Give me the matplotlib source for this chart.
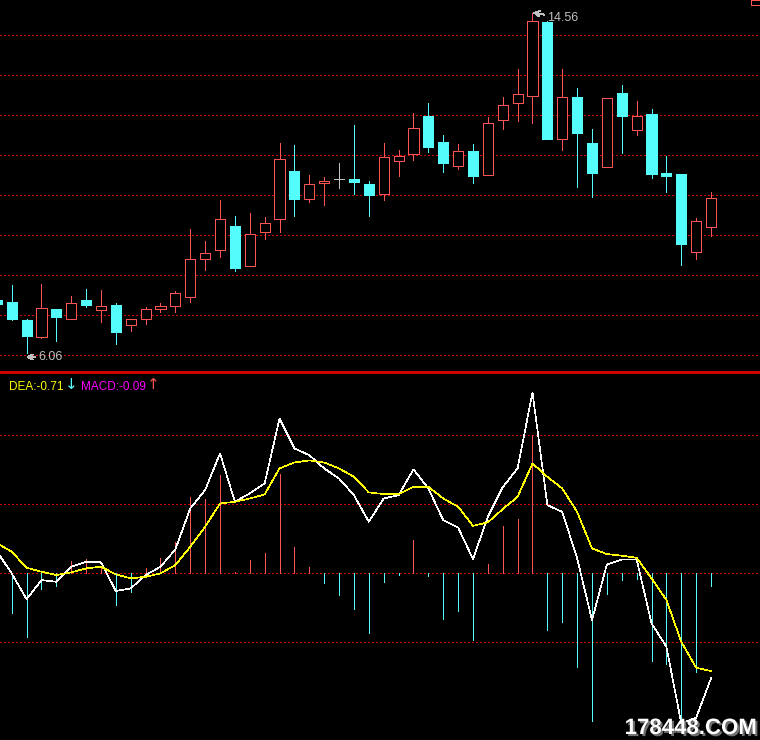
import matplotlib
matplotlib.use('Agg')
import matplotlib.pyplot as plt
from matplotlib.patches import Rectangle
import matplotlib.patheffects as pe

plt.rcParams['font.family'] = ['Liberation Sans', 'DejaVu Sans']
plt.rcParams['lines.antialiased'] = False
plt.rcParams['patch.antialiased'] = False

# daily candles (first one only partly visible on the left edge)
opens = [7.375, 7.325, 6.875, 6.45, 7.15, 6.9, 7.375, 7.125, 7.25, 6.74,
         6.9, 7.15, 7.23, 7.45, 8.4, 8.625, 9.225, 8.225, 9.08, 9.4,
         10.6, 9.9, 10.3, 10.4, 10.4, 10.275, 10.025, 10.85, 11.025, 11.975,
         11.325, 10.725, 11.1, 10.5, 11.875, 12.3, 12.475, 14.325, 11.4, 12.45,
         11.3, 10.7, 12.55, 11.625, 12.025, 10.55, 10.525, 8.575, 9.2]
highs = [7.45, 7.75, 6.9, 7.78, 7.15, 7.475, 7.65, 7.625, 7.3, 6.9,
         7.2, 7.3, 7.6, 9.15, 8.85, 9.875, 9.475, 9.55, 9.45, 11.3,
         11.25, 10.5, 10.45, 10.8, 11.75, 10.35, 11.3, 11.125, 12.05, 12.3,
         11.5, 11.275, 11.275, 11.95, 12.45, 13.15, 14.56, 14.35, 13.15, 12.675,
         11.65, 12.425, 12.75, 12.35, 12.15, 10.975, 10.525, 9.425, 10.075]
lows = [7.2, 6.88, 6.06, 6.43, 6.35, 6.89, 7.19, 6.83, 6.28, 6.61,
        6.78, 7.08, 7.08, 7.33, 8.125, 8.46, 8.1, 8.225, 8.9, 9.075,
        9.475, 9.825, 9.75, 10.175, 10.025, 9.475, 9.875, 10.475, 10.875, 11.075,
        10.575, 10.65, 10.3, 10.5, 11.65, 11.85, 11.8, 11.4, 11.125, 10.2,
        9.95, 10.7, 11.05, 11.5, 10.425, 10.075, 8.25, 8.4, 8.975]
closes = [7.275, 6.9, 6.475, 7.17, 6.95, 7.3, 7.25, 7.225, 6.58, 6.9,
          7.15, 7.225, 7.55, 8.4, 8.55, 9.4, 8.175, 9.025, 9.3, 10.9,
          9.9, 10.275, 10.35, 10.4, 10.325, 10.0, 10.95, 10.975, 11.675, 11.2,
          10.8, 11.1, 10.475, 11.8, 12.25, 12.525, 14.35, 11.4, 12.45, 11.55,
          10.55, 12.425, 11.975, 11.975, 10.525, 10.475, 8.775, 9.35, 9.925]

# MACD indicator
dif = [0.16, 0.0, -0.188, -0.049, -0.061, 0.048, 0.084, 0.08, -0.128, -0.109,
       -0.012, 0.048, 0.174, 0.471, 0.604, 0.87, 0.519, 0.58, 0.652, 1.123,
       0.906, 0.857, 0.761, 0.688, 0.567, 0.374, 0.543, 0.567, 0.754, 0.616,
       0.386, 0.333, 0.104, 0.41, 0.625, 0.761, 1.312, 0.495, 0.446, 0.109,
       -0.338, 0.065, 0.101, 0.101, -0.362, -0.532, -1.087, -1.046, -0.761]
dea = [0.22, 0.157, 0.041, 0.012, -0.012, 0.007, 0.036, 0.048, -0.007, -0.036,
       -0.025, 0.0, 0.06, 0.193, 0.338, 0.507, 0.519, 0.543, 0.572, 0.761,
       0.804, 0.819, 0.804, 0.761, 0.7, 0.587, 0.575, 0.575, 0.628, 0.628,
       0.543, 0.483, 0.345, 0.37, 0.466, 0.555, 0.797, 0.7, 0.616, 0.446,
       0.181, 0.14, 0.128, 0.113, -0.036, -0.193, -0.496, -0.684, -0.708]
macd = [-0.12, -0.29, -0.46, -0.116, -0.09, 0.087, 0.104, 0.048, -0.232, -0.133,
        0.038, 0.113, 0.227, 0.553, 0.538, 0.712, 0.01, 0.096, 0.147, 0.722,
        0.19, 0.046, -0.068, -0.155, -0.256, -0.435, -0.061, -0.01, 0.241, -0.017,
        -0.33, -0.27, -0.48, 0.067, 0.343, 0.393, 1.0, -0.41, -0.35, -0.677,
        -1.068, -0.148, -0.046, -0.039, -0.633, -0.655, -1.065, -0.717, -0.09]

price_grid = [6, 7, 8, 9, 10, 11, 12, 13, 14]
macd_grid = [1.0, 0.5, 0.0, -0.5]

RED = '#ff5454'
CYAN = '#54fcfc'
GRAY = '#c0c0c0'
GRID = '#d00000'
LW = 0.6
W = 0.68

fig = plt.figure(figsize=(7.6, 7.4), dpi=100, facecolor='black')
ax1 = fig.add_axes([0, 1 - 372 / 740, 1, 372 / 740])
ax2 = fig.add_axes([0, 0, 1, 1 - 372 / 740])

for ax in (ax1, ax2):
    ax.set_facecolor('black')
    ax.set_xticks([])
    ax.set_yticks([])
    for s in ax.spines.values():
        s.set_visible(False)
    ax.set_xlim(0.214, 51.29)

ax2.spines['top'].set_visible(True)
ax2.spines['top'].set_color('#d00000')
ax2.spines['top'].set_linewidth(1.0)

ax1.set_ylim(5.575, 14.875)
ax2.set_ylim(-1.208, 1.46)

for g in price_grid:
    ax1.axhline(g, color=GRID, lw=0.72, ls=(0, (1.5, 2.5)), zorder=0)
for g in macd_grid:
    ax2.axhline(g, color=GRID, lw=0.72, ls=(0, (1.5, 2.5)), zorder=0)

# candles
for i in range(len(opens)):
    o, h, l, c = opens[i], highs[i], lows[i], closes[i]
    if c > o:
        ax1.vlines(i, c, h, color=RED, lw=LW, antialiased=False)
        ax1.vlines(i, l, o, color=RED, lw=LW, antialiased=False)
        ax1.add_patch(Rectangle((i - W / 2, o), W, c - o, facecolor='black',
                                edgecolor=RED, lw=LW, zorder=3))
    elif c < o:
        ax1.vlines(i, l, h, color=CYAN, lw=LW, antialiased=False)
        ax1.add_patch(Rectangle((i - W / 2, c), W, o - c, facecolor=CYAN,
                                edgecolor=CYAN, lw=LW, zorder=3))
    else:
        ax1.vlines(i, l, h, color=GRAY, lw=LW, antialiased=False)
        ax1.hlines(o, i - W / 2, i + W / 2, color=GRAY, lw=LW, antialiased=False)

# high / low marks
ax1.annotate('14.56', xy=(36.05, 14.56), xytext=(36.95, 14.42),
             color=GRAY, fontsize=9, ha='left', va='center',
             arrowprops=dict(arrowstyle='->', color=GRAY, lw=0.7,
                             shrinkA=0, shrinkB=0))
ax1.annotate('6.06', xy=(2.0, 5.95), xytext=(2.77, 5.95),
             color=GRAY, fontsize=9, ha='left', va='center',
             arrowprops=dict(arrowstyle='->', color=GRAY, lw=0.7,
                             shrinkA=0, shrinkB=0))

# MACD panel
x = list(range(len(macd)))
bar_cols = [RED if v > 0 else CYAN for v in macd]
ax2.vlines(x, 0, macd, colors=bar_cols, lw=LW, zorder=2, antialiased=False)
ax2.plot(x, dif, color='white', lw=0.45, zorder=3)
ax2.plot(x, dea, color='#ffff00', lw=0.45, zorder=4)


def ftext(px, py, s, **kw):
    fig.text(px / 760, 1 - py / 740, s, **kw)


ftext(9, 390, f'DEA:{dea[-1]:.2f}', color='#ffff00', fontsize=8.5, va='baseline')
ftext(65, 389, '↓', color=CYAN, fontsize=11, va='baseline', family='DejaVu Sans')
ftext(81, 390, f'MACD:{macd[-1]:.2f}', color='#ff00ff', fontsize=8.5, va='baseline')
ftext(147, 389, '↑', color=RED, fontsize=11, va='baseline', family='DejaVu Sans')

# little button in top right corner
fig.add_artist(Rectangle((751 / 760, 1 - 5 / 740), 9 / 760, 5 / 740,
                         transform=fig.transFigure, fill=False, ec=RED, lw=LW))

ftext(757, 734, '178448.COM', color='white', fontsize=16, weight='bold',
      ha='right', va='baseline',
      path_effects=[pe.withSimplePatchShadow(offset=(1.5, -1.5),
                                             shadow_rgbFace='#707070', alpha=1)])

fig.savefig('out.png', dpi=100, facecolor='black')
